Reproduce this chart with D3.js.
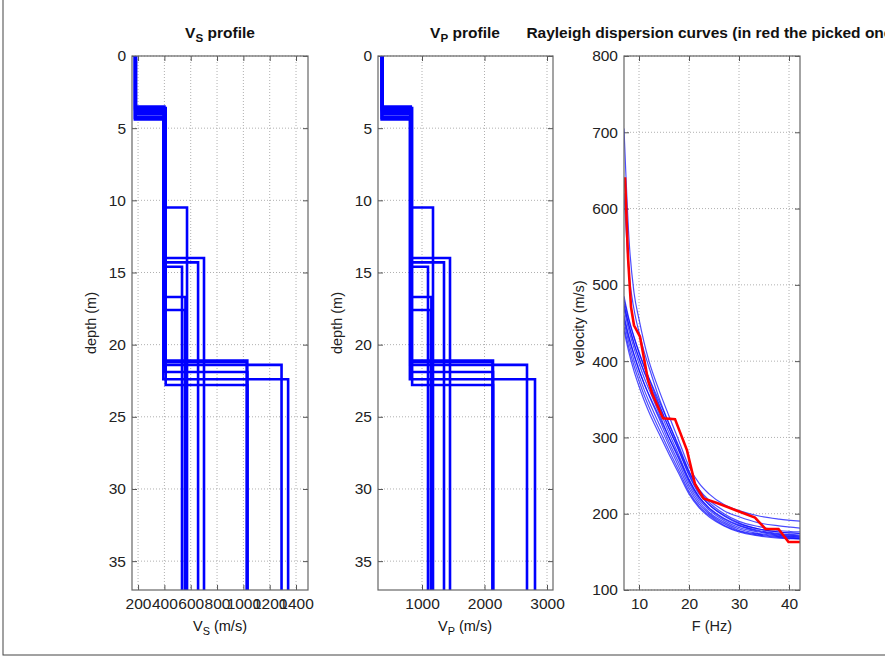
<!DOCTYPE html>
<html>
<head>
<meta charset="utf-8">
<script src="https://cdn.jsdelivr.net/npm/d3@7"></script>
<style>
  body { margin: 0; background: #fff; }
  text { font-family: "Liberation Sans", Arial, sans-serif; }
</style>
</head>
<body>
<div id="chart"></div>
<script>
// Layered models: layer bottoms (m), Vs and Vp of each layer (last = half-space)
var layerDepths = [
  [3.5, 21.1], [3.7, 21.4], [4.0, 21.9], [4.3, 22.4], [3.6, 22.8], [4.0, 21.2],
  [3.8, 10.5], [3.6, 14.0], [4.2, 14.6], [3.9, 14.3], [4.4, 16.7], [3.7, 17.6]
];
var vsLayers = [
  [180, 400, 1030], [178, 395, 1290], [182, 405, 1030], [176, 392, 1340], [184, 410, 1030], [181, 401, 1025],
  [180, 400, 572], [178, 400, 701], [182, 405, 534], [180, 398, 656], [176, 402, 560], [184, 396, 556]
];
var vpLayers = [
  [362, 820, 2136], [358, 812, 2680], [366, 830, 2136], [354, 806, 2808], [370, 842, 2136], [364, 824, 2128],
  [362, 820, 1176], [358, 822, 1448], [366, 832, 1096], [362, 818, 1352], [354, 826, 1150], [370, 814, 1142]
];

// Rayleigh dispersion curves of the models (m/s) at these frequencies (Hz)
var dispFreq = [7, 8, 9, 10, 11, 12, 14, 16, 18, 20, 22, 24, 27, 30, 34, 38, 42.5];
var dispCurves = [
  [705, 560, 490, 455, 425, 400, 362, 328, 295, 262, 240, 226, 212, 204, 197, 193, 190],
  [620, 515, 468, 438, 413, 392, 352, 318, 286, 255, 232, 218, 204, 196, 188, 184, 181],
  [485, 455, 432, 412, 394, 377, 344, 312, 282, 250, 226, 212, 198, 188, 180, 176, 174],
  [475, 447, 424, 404, 386, 370, 338, 306, 276, 245, 222, 208, 194, 185, 178, 174, 172],
  [468, 440, 417, 397, 379, 363, 332, 300, 271, 241, 219, 205, 191, 182, 176, 172, 170],
  [460, 432, 409, 389, 371, 355, 325, 294, 266, 237, 216, 202, 189, 180, 174, 171, 169],
  [452, 424, 401, 381, 363, 347, 318, 289, 261, 233, 213, 200, 187, 178, 173, 170, 168],
  [445, 417, 394, 374, 356, 340, 311, 283, 256, 229, 210, 198, 185, 177, 172, 169, 167],
  [440, 411, 387, 367, 349, 333, 305, 278, 252, 226, 208, 196, 184, 176, 171, 168, 167],
  [472, 446, 423, 404, 387, 372, 342, 312, 283, 252, 228, 212, 197, 187, 180, 176, 174],
  [480, 453, 431, 411, 393, 378, 348, 318, 288, 256, 231, 215, 200, 190, 183, 178, 176],
  [456, 430, 408, 388, 371, 356, 328, 300, 273, 244, 222, 207, 193, 184, 177, 173, 171]
];

// Picked curve (red)
var pickedFreq = [7.2, 7.8, 8.4, 9.0, 10.2, 11.8, 12.6, 14.8, 17.2, 19.6, 21.2, 22.9, 25.6, 29.6, 33.2, 35.3, 37.9, 39.9, 42.5];
var pickedVel  = [641, 537, 471, 447, 432, 375, 358, 325, 324, 283, 239, 220, 214, 204, 195, 180, 180, 163, 163];

// Ticks
var depthTicks = [0, 5, 10, 15, 20, 25, 30, 35];
var vsTicks = [200, 400, 600, 800, 1000, 1200, 1400];
var vpTicks = [1000, 2000, 3000];
var freqTicks = [10, 20, 30, 40];
var velTicks = [100, 200, 300, 400, 500, 600, 700, 800];

var width = 885, height = 661;
var tickFont = 15.5, labelFont = 14.5, titleFont = 15.5;

var svg = d3.select('#chart').append('svg')
  .attr('width', width)
  .attr('height', height);

// figure frame
svg.append('rect')
  .attr('x', 3).attr('y', -2)
  .attr('width', 895).attr('height', 657)
  .style('fill', 'none')
  .style('stroke', '#444')
  .style('stroke-width', 1);

var boxes = [
  { x0: 132, x1: 308, y0: 56, y1: 590 },
  { x0: 378, x1: 553, y0: 56, y1: 590 },
  { x0: 624, x1: 800, y0: 56, y1: 590 }
];

var xVs = d3.scaleLinear().domain([154, 1491]).range([boxes[0].x0, boxes[0].x1]);
var yDepth1 = d3.scaleLinear().domain([0, 37]).range([boxes[0].y0, boxes[0].y1]);
var xVp = d3.scaleLinear().domain([296, 3096]).range([boxes[1].x0, boxes[1].x1]);
var yDepth2 = d3.scaleLinear().domain([0, 37]).range([boxes[1].y0, boxes[1].y1]);
var xF = d3.scaleLinear().domain([7, 42.2]).range([boxes[2].x0, boxes[2].x1]);
var yVel = d3.scaleLinear().domain([100, 800]).range([boxes[2].y1, boxes[2].y0]);

function drawFrame(i, xs, ys, xt, yt) {
  var b = boxes[i];
  var g = svg.append('g');

  // dotted grid
  g.selectAll('.gx').data(xt).enter().append('line')
    .attr('x1', function(d) { return xs(d); }).attr('x2', function(d) { return xs(d); })
    .attr('y1', b.y0).attr('y2', b.y1)
    .style('stroke', '#b0b0b0').style('stroke-dasharray', '1,2').style('stroke-width', 1);
  g.selectAll('.gy').data(yt).enter().append('line')
    .attr('y1', function(d) { return ys(d); }).attr('y2', function(d) { return ys(d); })
    .attr('x1', b.x0).attr('x2', b.x1)
    .style('stroke', '#b0b0b0').style('stroke-dasharray', '1,2').style('stroke-width', 1);

  // axes, ticks inside
  g.append('g').attr('transform', 'translate(0,' + b.y1 + ')')
    .call(d3.axisBottom(xs).tickValues(xt).tickSize(-5).tickPadding(8).tickFormat(d3.format('d')));
  g.append('g').attr('transform', 'translate(' + b.x0 + ',0)')
    .call(d3.axisLeft(ys).tickValues(yt).tickSize(-5).tickPadding(6).tickFormat(d3.format('d')));
  g.append('g').attr('transform', 'translate(0,' + b.y0 + ')')
    .call(d3.axisTop(xs).tickValues(xt).tickSize(-5).tickFormat(''));
  g.append('g').attr('transform', 'translate(' + b.x1 + ',0)')
    .call(d3.axisRight(ys).tickValues(yt).tickSize(-5).tickFormat(''));
  g.selectAll('.domain').remove();
  g.selectAll('.tick line').style('stroke', '#555');
  g.selectAll('.tick text').style('font-size', tickFont + 'px').style('fill', '#222')
    .style('font-family', '"Liberation Sans", Arial, sans-serif');

  return g;
}

function drawBox(i) {
  var b = boxes[i];
  svg.append('rect')
    .attr('x', b.x0).attr('y', b.y0)
    .attr('width', b.x1 - b.x0).attr('height', b.y1 - b.y0)
    .style('fill', 'none').style('stroke', '#666').style('stroke-width', 1.2);
}

function clipFor(i) {
  var b = boxes[i];
  svg.append('clipPath').attr('id', 'clip' + i)
    .append('rect').attr('x', b.x0).attr('y', b.y0)
    .attr('width', b.x1 - b.x0).attr('height', b.y1 - b.y0);
  return svg.append('g').attr('clip-path', 'url(#clip' + i + ')');
}

function stepPoints(vals, depths) {
  var pts = [], top = 0;
  vals.forEach(function(v, i) {
    var bot = i < depths.length ? depths[i] : 40;
    pts.push([v, top]);
    pts.push([v, bot]);
    top = bot;
  });
  return pts;
}

function titleWithSub(x, y, main, sub, rest, size, weight) {
  var t = svg.append('text')
    .attr('x', x).attr('y', y)
    .attr('text-anchor', 'middle')
    .style('font-size', size + 'px')
    .style('font-weight', weight)
    .style('fill', '#111');
  t.append('tspan').text(main);
  t.append('tspan').attr('dy', 4).style('font-size', (size * 0.75) + 'px').text(sub);
  t.append('tspan').attr('dy', -4).text(rest);
}

function yLabel(x, y, txt) {
  svg.append('text')
    .attr('transform', 'translate(' + x + ',' + y + ') rotate(-90)')
    .attr('text-anchor', 'middle')
    .style('font-size', labelFont + 'px')
    .style('fill', '#222')
    .text(txt);
}

// ---- Vs profile
drawFrame(0, xVs, yDepth1, vsTicks, depthTicks);
var g1 = clipFor(0);
var line1 = d3.line().x(function(d) { return xVs(d[0]); }).y(function(d) { return yDepth1(d[1]); });
g1.selectAll('.vs').data(vsLayers).enter().append('path')
  .attr('d', function(d, i) { return line1(stepPoints(d, layerDepths[i])); })
  .style('fill', 'none').style('stroke', '#0000ff').style('stroke-width', 2.6)
  .style('stroke-linejoin', 'miter');
drawBox(0);
titleWithSub(220, 38, 'V', 'S', ' profile', titleFont, 'bold');
titleWithSub(220, 631, 'V', 'S', ' (m/s)', labelFont, 'normal');
yLabel(96, 323, 'depth (m)');

// ---- Vp profile
drawFrame(1, xVp, yDepth2, vpTicks, depthTicks);
var g2 = clipFor(1);
var line2 = d3.line().x(function(d) { return xVp(d[0]); }).y(function(d) { return yDepth2(d[1]); });
g2.selectAll('.vp').data(vpLayers).enter().append('path')
  .attr('d', function(d, i) { return line2(stepPoints(d, layerDepths[i])); })
  .style('fill', 'none').style('stroke', '#0000ff').style('stroke-width', 2.6)
  .style('stroke-linejoin', 'miter');
drawBox(1);
titleWithSub(465, 38, 'V', 'P', ' profile', titleFont, 'bold');
titleWithSub(465, 631, 'V', 'P', ' (m/s)', labelFont, 'normal');
yLabel(342, 323, 'depth (m)');

// ---- Dispersion curves
drawFrame(2, xF, yVel, freqTicks, velTicks);
var g3 = clipFor(2);
var line3 = d3.line().x(function(d) { return xF(d[0]); }).y(function(d) { return yVel(d[1]); })
  .curve(d3.curveMonotoneX);
g3.selectAll('.disp').data(dispCurves).enter().append('path')
  .attr('d', function(d) { return line3(d.map(function(v, j) { return [dispFreq[j], v]; })); })
  .style('fill', 'none').style('stroke', '#0000ff').style('stroke-width', 1.2)
  .style('stroke-opacity', 0.7);
var picked = pickedFreq.map(function(f, j) { return [f, pickedVel[j]]; });
g3.append('path')
  .attr('d', d3.line().x(function(d) { return xF(d[0]); }).y(function(d) { return yVel(d[1]); })(picked))
  .style('fill', 'none').style('stroke', '#ff0000').style('stroke-width', 2.6)
  .style('stroke-linejoin', 'miter');
drawBox(2);
svg.append('text')
  .attr('x', 712).attr('y', 38)
  .attr('text-anchor', 'middle')
  .style('font-size', titleFont + 'px').style('font-weight', 'bold').style('fill', '#111')
  .text('Rayleigh dispersion curves (in red the picked one)');
svg.append('text')
  .attr('x', 712).attr('y', 631)
  .attr('text-anchor', 'middle')
  .style('font-size', labelFont + 'px').style('fill', '#222')
  .text('F (Hz)');
yLabel(584, 323, 'velocity (m/s)');
</script>
</body>
</html>
